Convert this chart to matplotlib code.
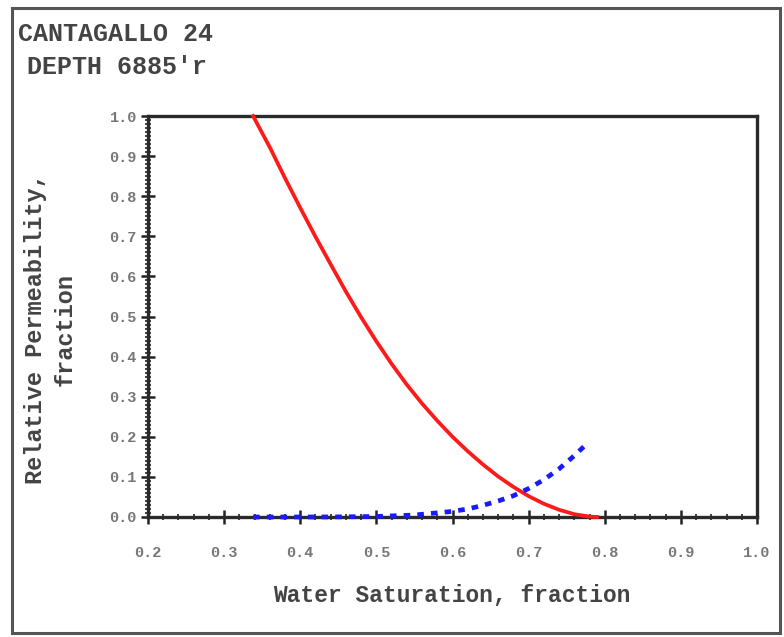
import matplotlib
matplotlib.use("Agg")
import matplotlib.pyplot as plt
from matplotlib.ticker import MultipleLocator
from matplotlib.patches import Rectangle

# water saturation and relative permeabilities
sw_oil = [0.338, 0.36, 0.38, 0.40, 0.42, 0.44, 0.46, 0.48, 0.50, 0.52, 0.54,
          0.56, 0.58, 0.60, 0.62, 0.64, 0.66, 0.68, 0.70, 0.72, 0.74, 0.76,
          0.78, 0.79]
kro = [1.0, 0.922, 0.845, 0.771, 0.699, 0.630, 0.562, 0.498, 0.438, 0.382,
       0.330, 0.283, 0.240, 0.200, 0.164, 0.131, 0.101, 0.075, 0.052, 0.033,
       0.018, 0.007, 0.001, 0.0]

sw_water = [0.338, 0.40, 0.44, 0.50, 0.55, 0.60, 0.62, 0.64, 0.66, 0.68,
            0.70, 0.72, 0.74, 0.76, 0.775]
krw = [0.0, 0.0, 0.0001, 0.0013, 0.0049, 0.014, 0.020, 0.029, 0.040, 0.053,
       0.071, 0.093, 0.12, 0.153, 0.18]

x_ticks = [0.2, 0.3, 0.4, 0.5, 0.6, 0.7, 0.8, 0.9, 1.0]
y_ticks = [0.0, 0.1, 0.2, 0.3, 0.4, 0.5, 0.6, 0.7, 0.8, 0.9, 1.0]

title1 = "CANTAGALLO 24"
title2 = "DEPTH 6885'r"
x_label = "Water Saturation, fraction"
y_label = "Relative Permeability,\nfraction"

font = ["Liberation Mono", "DejaVu Sans Mono"]

fig = plt.figure(figsize=(7.84, 6.37), dpi=100)

# outer frame around the whole chart
fig.patches.append(Rectangle((12 / 784, 4 / 637), 768 / 784, 625 / 637,
                             transform=fig.transFigure, fill=False,
                             edgecolor="#555555", linewidth=2.2))

ax = fig.add_axes([148 / 784, 120 / 637, 609 / 784, 401 / 637])

ax.plot(sw_oil, kro, color="#ff1a1a", linewidth=2.7, zorder=5, clip_on=False)
ax.plot(sw_water, krw, color="#1a1aff", linewidth=3.4,
        linestyle=(0, (1.4, 1.5)), zorder=6, clip_on=False)

ax.set_xlim(0.2, 1.0)
ax.set_ylim(0.0, 1.0)
ax.set_xticks(x_ticks)
ax.set_yticks(y_ticks)
ax.set_xticklabels([f"{t:.1f}" for t in x_ticks])
ax.set_yticklabels([f"{t:.1f}" for t in y_ticks])
ax.xaxis.set_minor_locator(MultipleLocator(0.02))
ax.yaxis.set_minor_locator(MultipleLocator(0.01))

ax.tick_params(which="major", direction="inout", length=10, width=1.8,
               color="#222222", labelsize=11, labelcolor="#777777")
ax.tick_params(axis="x", which="major", pad=16)
ax.tick_params(axis="y", which="major", pad=3)
ax.tick_params(which="minor", direction="inout", length=5, width=1.2,
               color="#222222")
for lab in ax.get_xticklabels() + ax.get_yticklabels():
    lab.set_family(font)
    lab.set_weight("bold")

for sp in ax.spines.values():
    sp.set_linewidth(2.4)
    sp.set_color("#2a2a2a")

fig.text(18 / 784, 1 - 34 / 637, title1, family=font, weight="bold",
         fontsize=18, color="#444444", va="center", ha="left")
fig.text(27 / 784, 1 - 67 / 637, title2, family=font, weight="bold",
         fontsize=18, color="#444444", va="center", ha="left")

fig.text(452 / 784, 1 - 596 / 637, x_label, family=font, weight="bold",
         fontsize=16.5, color="#444444", va="center", ha="center")
fig.text(50 / 784, 1 - 329 / 637, y_label, family=font, weight="bold",
         fontsize=17, color="#444444", va="center", ha="center",
         rotation=90, linespacing=1.35)

fig.savefig("out.png", dpi=100)
